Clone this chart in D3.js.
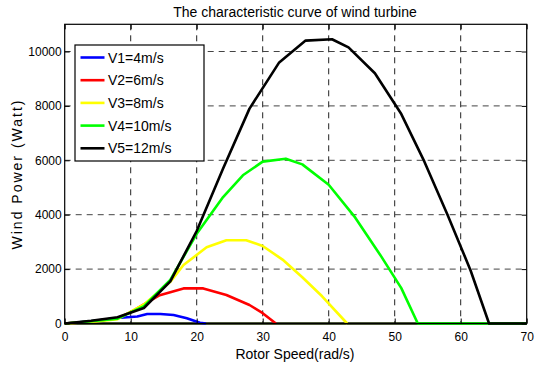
<!DOCTYPE html>
<html><head><meta charset="utf-8">
<script src="https://cdn.jsdelivr.net/npm/d3@7"></script>
<style>
body{margin:0;background:#fff;}
svg text{font-family:"Liberation Sans Narrow","Liberation Sans",Arial,sans-serif;}
</style></head>
<body><svg id="c" width="547" height="367"></svg>
<script>
const seriesNames = ["V1=4m/s","V2=6m/s","V3=8m/s","V4=10m/s","V5=12m/s"];
const seriesColors = ["#0000ff","#ff0000","#ffff00","#00ff00","#000000"];
const v1x = [0,4,8,11,12.5,14.5,16.5,18.5,20.5,21.4];
const v1y = [0,80,200,260,350,350,310,190,30,0];
const v2x = [0,4,8,10,14.4,18,21,24.5,28,30,32];
const v2y = [0,70,200,420,1040,1290,1290,1050,680,380,0];
const v3x = [0,4,8,12,16,18,21.5,24.5,27.5,30,33,36,39,42.8];
const v3y = [0,60,160,700,1530,2150,2800,3060,3060,2850,2350,1700,1000,0];
const v4x = [0,4,8,12,16,20,24,27,30,33.5,36,40,44,48,51,53.5,70];
const v4y = [0,80,180,640,1600,3300,4650,5450,5950,6060,5850,5100,3900,2450,1300,0,0];
const v5x = [0,4,8,12,16,20,24,28,32.5,36.5,40.5,43,47,51,54.5,58,61.5,64.3,70];
const v5y = [0,100,230,570,1550,3400,5700,7900,9600,10400,10450,10150,9200,7700,5950,4000,1950,0,0];
const xTicks = [0,10,20,30,40,50,60,70];
const yTicks = [0,2000,4000,6000,8000,10000];
const titleText = "The characteristic curve of wind turbine";
const xLabel = "Rotor Speed(rad/s)";
const yLabel = "Wind Power (Watt)";

const allX = [v1x,v2x,v3x,v4x,v5x];
const allY = [v1y,v2y,v3y,v4y,v5y];

const svg = d3.select("#c");
const L=64.7,R=526.7,T=24.3,B=323.5;
const x = d3.scaleLinear().domain([0,70]).range([L,R]);
const y = d3.scaleLinear().domain([0,11000]).range([B,T]);

// grid
const g = svg.append("g");
g.selectAll(".vg").data(xTicks.filter(d=>d>0&&d<70)).enter().append("line")
 .attr("x1",d=>x(d)).attr("x2",d=>x(d)).attr("y1",T).attr("y2",B)
 .attr("stroke","#222").attr("stroke-width",1).attr("stroke-dasharray","6,5");
g.selectAll(".hg").data(yTicks.filter(d=>d>0)).enter().append("line")
 .attr("y1",d=>y(d)).attr("y2",d=>y(d)).attr("x1",L).attr("x2",R)
 .attr("stroke","#444").attr("stroke-width",1).attr("stroke-dasharray","6,5");

// baseline
svg.append("line").attr("x1",L).attr("x2",R).attr("y1",B).attr("y2",B)
 .attr("stroke","#1a2a00").attr("stroke-width",2.6);

// curves
const line = d3.line().x(d=>x(d[0])).y(d=>y(d[1]));
allX.forEach((xs,i)=>{
  const pts = xs.map((v,j)=>[v,allY[i][j]]);
  svg.append("path").datum(pts).attr("d",line).attr("fill","none")
   .attr("stroke",seriesColors[i]).attr("stroke-width",2.6).attr("stroke-linejoin","round");
});

// box
svg.append("rect").attr("x",L).attr("y",T).attr("width",R-L).attr("height",B-T)
 .attr("fill","none").attr("stroke","#000").attr("stroke-width",1.2);

// axes
const xa = svg.append("g").attr("transform",`translate(0,${B})`)
 .call(d3.axisBottom(x).tickValues(xTicks).tickSize(-5).tickPadding(9).tickFormat(d3.format("d")));
const xa2 = svg.append("g").attr("transform",`translate(0,${T})`)
 .call(d3.axisTop(x).tickValues(xTicks).tickSize(-5).tickFormat(""));
const ya = svg.append("g").attr("transform",`translate(${L},0)`)
 .call(d3.axisLeft(y).tickValues(yTicks).tickSize(-5).tickPadding(3).tickFormat(d3.format("d")));
const ya2 = svg.append("g").attr("transform",`translate(${R},0)`)
 .call(d3.axisRight(y).tickValues(yTicks).tickSize(-5).tickFormat(""));
[xa,xa2,ya,ya2].forEach(a=>{
  a.select(".domain").remove();
  a.selectAll("line").attr("stroke","#000");
  a.selectAll("text").attr("font-size",12).attr("fill","#000");
});

// labels
svg.append("text").attr("x",295).attr("y",17).attr("text-anchor","middle")
 .attr("font-size",14).text(titleText);
svg.append("text").attr("x",295).attr("y",359).attr("text-anchor","middle")
 .attr("font-size",14).text(xLabel);
svg.append("text").attr("transform","translate(22,174) rotate(-90)").attr("text-anchor","middle")
 .attr("font-size",14).attr("letter-spacing",2).text(yLabel);

// legend
const lg = svg.append("g");
lg.append("rect").attr("x",75).attr("y",45).attr("width",129).attr("height",116)
 .attr("fill","#fff").attr("stroke","#000").attr("stroke-width",1.2);
seriesNames.forEach((n,i)=>{
  const yy = 57.5 + i*22.7;
  lg.append("line").attr("x1",80.5).attr("x2",104.5).attr("y1",yy).attr("y2",yy)
   .attr("stroke",seriesColors[i]).attr("stroke-width",2.6);
  lg.append("text").attr("x",108).attr("y",yy+5).attr("font-size",14).text(n);
});
</script></body></html>
